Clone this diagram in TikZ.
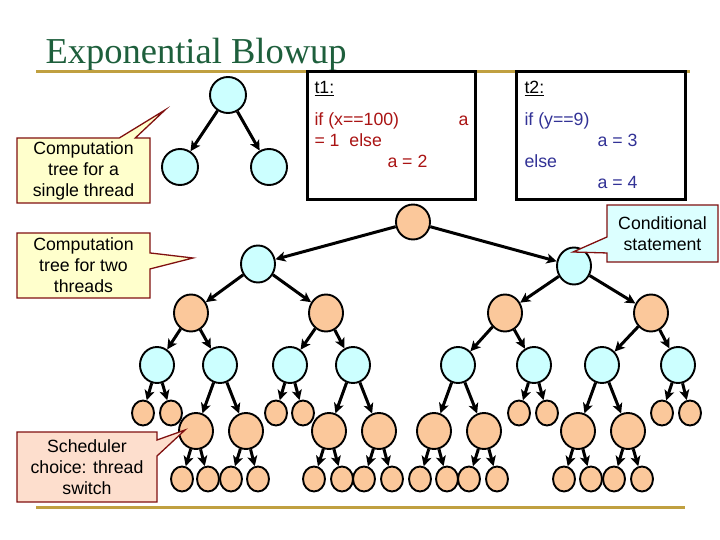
\documentclass[tikz,border=0pt]{standalone}
\usepackage{fontspec}
\setmainfont{Liberation Sans}
\newfontfamily\titlefont{Liberation Serif}
\usetikzlibrary{arrows.meta}
\usetikzlibrary{shapes.geometric}
\usetikzlibrary{shapes.callouts}

\definecolor{peach}{RGB}{251,200,155}
\definecolor{aqua}{RGB}{204,255,255}
\definecolor{gold}{RGB}{192,160,64}
\definecolor{deepgreen}{RGB}{30,95,60}
\definecolor{maroon}{RGB}{128,16,16}
\definecolor{codered}{RGB}{170,20,20}
\definecolor{codeblue}{RGB}{50,50,150}
\definecolor{notey}{RGB}{255,255,204}
\definecolor{notep}{RGB}{253,222,205}
\definecolor{notec}{RGB}{220,255,255}

\begin{document}
\begin{tikzpicture}[x=1pt,y=-1pt,->,>={Stealth[length=10pt,width=10pt,inset=2.5pt]},line width=3pt]

			\tikzstyle{every node}=[font=\fontsize{17.7}{21}\selectfont]
			\tikzstyle{bub}=[ellipse,draw,line width=1.9pt,inner sep=0pt,minimum width=34pt,minimum height=37pt]
			\tikzstyle{og}=[bub,fill=peach]
			\tikzstyle{cy}=[bub,fill=aqua]
			\tikzstyle{sm}=[minimum width=22pt,minimum height=25pt]
			\tikzstyle{note}=[rectangle callout,draw=maroon,line width=1.3pt,align=center,inner sep=0pt,callout pointer width=16pt,minimum width=133pt,minimum height=65pt]
			\tikzstyle{code}=[anchor=base west,inner sep=0pt]

			\useasboundingbox (0,0) rectangle (720,540);

			% title and rules
			\node[font=\titlefont\fontsize{36.5}{40}\selectfont,text=deepgreen,anchor=base west,inner sep=0pt] (title) at (44,64) {Exponential Blowup};
			\draw[-,gold,line width=3pt] (36,72) -- (690,72);
			\draw[-,gold,line width=3pt] (36,507) -- (685,507);

			% the two threads
			\draw[-,line width=3pt,fill=white] (307,72) rectangle (475,200);
			\draw[-,line width=3pt,fill=white] (516,72) rectangle (685,200);
			\node[code] (h1) at (313,94) {\underline{t1:}};
			\node[code,text=codered] (x1) at (313,126) {if (x==100)};
			\node[code,text=codered] (x2) at (457,126) {a};
			\node[code,text=codered] (x3) at (313,147) {= 1~~else};
			\node[code,text=codered] (x4) at (386,168) {a = 2};
			\node[code] (h2) at (523,94) {\underline{t2:}};
			\node[code,text=codeblue] (y1) at (523,126) {if (y==9)};
			\node[code,text=codeblue] (y2) at (596,147) {a = 3};
			\node[code,text=codeblue] (y3) at (523,168) {else};
			\node[code,text=codeblue] (y4) at (596,189) {a = 4};

			% single thread
			\node[cy,minimum width=36pt,minimum height=36pt] (s0) at (228,95) {};
			\node[cy,minimum width=36pt,minimum height=36pt] (s1) at (180,167) {};
			\node[cy,minimum width=36pt,minimum height=36pt] (s2) at (269,167) {};
			\path (s0) edge (s1) edge (s2);

			% two threads
			\node[og,minimum height=35pt] (r) at (413,222) {};
			\node[cy] (a1) at (258,264) {};
			\node[cy] (a2) at (574,266) {};
			\node[og] (b1) at (191,313) {};
			\node[og] (b2) at (326,313) {};
			\node[og] (b3) at (505,313) {};
			\node[og] (b4) at (651,313) {};
			\node[cy,minimum height=36pt] (d1) at (157,365) {};
			\node[cy,minimum height=36pt] (d2) at (220,365) {};
			\node[cy,minimum height=36pt] (d3) at (290,365) {};
			\node[cy,minimum height=36pt] (d4) at (353,365) {};
			\node[cy,minimum height=36pt] (d5) at (458,365) {};
			\node[cy,minimum height=36pt] (d6) at (534,365) {};
			\node[cy,minimum height=36pt] (d7) at (602,365) {};
			\node[cy,minimum height=36pt] (d8) at (678,365) {};
			\node[og,sm] (e1) at (143,413) {};
			\node[og,sm] (e2) at (171,413) {};
			\node[og,sm] (e3) at (276,413) {};
			\node[og,sm] (e4) at (303,413) {};
			\node[og,sm] (e5) at (519,413) {};
			\node[og,sm] (e6) at (547,413) {};
			\node[og,sm] (e7) at (662,413) {};
			\node[og,sm] (e8) at (690,413) {};
			\node[og,minimum height=36pt] (g1) at (196,431) {};
			\node[og,minimum height=36pt] (g2) at (246,431) {};
			\node[og,minimum height=36pt] (g3) at (329,431) {};
			\node[og,minimum height=36pt] (g4) at (379,431) {};
			\node[og,minimum height=36pt] (g5) at (434,431) {};
			\node[og,minimum height=36pt] (g6) at (484,431) {};
			\node[og,minimum height=36pt] (g7) at (578,431) {};
			\node[og,minimum height=36pt] (g8) at (628,431) {};
			\node[og,sm] (f1) at (182,479) {};
			\node[og,sm] (f2) at (208,479) {};
			\node[og,sm] (f3) at (231,479) {};
			\node[og,sm] (f4) at (258,479) {};
			\node[og,sm] (f5) at (314,479) {};
			\node[og,sm] (f6) at (342,479) {};
			\node[og,sm] (f7) at (364,479) {};
			\node[og,sm] (f8) at (392,479) {};
			\node[og,sm] (f9) at (420,479) {};
			\node[og,sm] (f10) at (447,479) {};
			\node[og,sm] (f11) at (469,479) {};
			\node[og,sm] (f12) at (497,479) {};
			\node[og,sm] (f13) at (564,479) {};
			\node[og,sm] (f14) at (591,479) {};
			\node[og,sm] (f15) at (614,479) {};
			\node[og,sm] (f16) at (642,479) {};

			\path (r) edge (a1) edge (a2);
			\path (a1) edge (b1) edge (b2);
			\path (a2) edge (b3) edge (b4);
			\path (b1) edge (d1) edge (d2);
			\path (b2) edge (d3) edge (d4);
			\path (b3) edge (d5) edge (d6);
			\path (b4) edge (d7) edge (d8);
			\path (d1) edge (e1) edge (e2);
			\path (d2) edge (g1) edge (g2);
			\path (d3) edge (e3) edge (e4);
			\path (d4) edge (g3) edge (g4);
			\path (d5) edge (g5) edge (g6);
			\path (d6) edge (e5) edge (e6);
			\path (d7) edge (g7) edge (g8);
			\path (d8) edge (e7) edge (e8);
			\path (g1) edge (f1) edge (f2);
			\path (g2) edge (f3) edge (f4);
			\path (g3) edge (f5) edge (f6);
			\path (g4) edge (f7) edge (f8);
			\path (g5) edge (f9) edge (f10);
			\path (g6) edge (f11) edge (f12);
			\path (g7) edge (f13) edge (f14);
			\path (g8) edge (f15) edge (f16);

			% callouts
			\node[note,fill=notey,callout absolute pointer={(165,110)}] (n1) at (83.5,170.5) {Computation\\tree for a\\single thread};
			\node[note,fill=notey,callout absolute pointer={(193,258)}] (n2) at (83.5,265.5) {Computation\\tree for two\\threads};
			\node[note,fill=notep,minimum width=140pt,minimum height=70pt,callout absolute pointer={(185,430)}] (n3) at (87,467) {Scheduler\\choice: thread\\switch};
			\node[note,fill=notec,minimum width=111pt,minimum height=57pt,callout absolute pointer={(573,252)}] (n4) at (662.5,233.5) {Conditional\\statement};
			\end{tikzpicture}
\end{document}
